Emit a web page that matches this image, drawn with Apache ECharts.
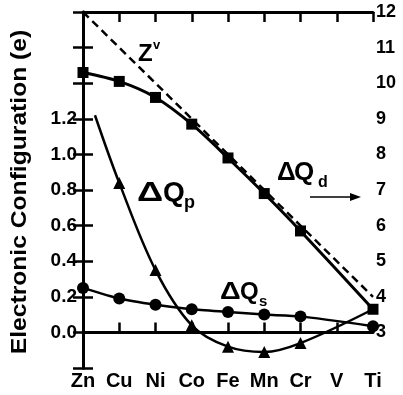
<!DOCTYPE html>
<html>
<head>
<meta charset="utf-8">
<script src="https://cdn.jsdelivr.net/npm/echarts@6/dist/echarts.min.js"></script>
<style>
  html, body { margin: 0; padding: 0; background: #fff; }
  #chart { width: 403px; height: 395px; }
</style>
</head>
<body>
<div id="chart"></div>
<script>
// elements along the x axis
const elements = ['Zn', 'Cu', 'Ni', 'Co', 'Fe', 'Mn', 'Cr', 'V', 'Ti']
// right axis values (e)
const zv = [12, 11, 10, 9, 8, 7, 6, 5, 4]
const dQd = [10.3, 10.05, 9.6, 8.85, 7.9, 6.9, 5.85, null, 3.65]
// left axis values (e)
const dQp = [null, 0.84, 0.35, 0.04, -0.08, -0.11, -0.06, null, 0.13]
const dQpStart = [0.33, 1.22] // curve starts between Zn and Cu
const dQs = [0.25, 0.19, 0.155, 0.13, 0.115, 0.1, 0.09, null, 0.035]
const leftTicks = [0, 0.2, 0.4, 0.6, 0.8, 1.0, 1.2]
const rightTicks = [3, 4, 5, 6, 7, 8, 9, 10, 11, 12]

const FONT = '"Liberation Sans", Arial, Helvetica, sans-serif'

function pairs(arr) {
  let out = []
  arr.forEach((v, i) => {
    if (v !== null) out.push([i, v])
  })
  return out
}

let pData = [{ value: dQpStart, symbol: 'none' }].concat(
  pairs(dQp).map((p) => (p[0] === 8 ? { value: p, symbol: 'none' } : p))
)

const lineCommon = {
  type: 'line',
  clip: false,
  color: '#000',
  lineStyle: { color: '#000', width: 2.5 },
  itemStyle: { color: '#000' },
  emphasis: { disabled: true },
  animation: false
}

const axisLine = { lineStyle: { color: '#000', width: 3 } }
const axisTick = { inside: true, length: 10, lineStyle: { color: '#000', width: 2.5 } }

// text helper, y is the visual middle of the glyphs
function txt(s, x, y, size, scaleX) {
  return {
    type: 'text',
    x: x,
    y: y,
    scaleX: scaleX || 1,
    style: {
      text: s,
      fill: '#000',
      fontFamily: FONT,
      fontWeight: 'bold',
      fontSize: size,
      align: 'left',
      verticalAlign: 'middle'
    }
  }
}

let chart = echarts.init(document.getElementById('chart'))
chart.setOption({
  animation: false,
  grid: { left: 83, right: 30, top: 12, bottom: 27 },
  xAxis: [
    {
      type: 'value',
      min: 0,
      max: 8,
      interval: 1,
      position: 'bottom',
      axisLine: axisLine,
      axisTick: axisTick,
      axisLabel: {
        margin: 3,
        color: '#000',
        fontFamily: FONT,
        fontWeight: 'bold',
        fontSize: 20,
        formatter: (v) => elements[Math.round(v)] || ''
      },
      splitLine: { show: false }
    },
    {
      type: 'value',
      min: 0,
      max: 8,
      interval: 1,
      position: 'top',
      axisLine: axisLine,
      axisTick: axisTick,
      axisLabel: { show: false },
      splitLine: { show: false }
    }
  ],
  yAxis: [
    {
      type: 'value',
      min: -0.2,
      max: 1.8,
      interval: 0.2,
      position: 'left',
      axisLine: axisLine,
      axisTick: axisTick,
      axisLabel: {
        margin: 6,
        color: '#000',
        fontFamily: FONT,
        fontWeight: 'bold',
        fontSize: 19,
        formatter: (v) => (leftTicks.some((t) => Math.abs(t - v) < 1e-6) ? v.toFixed(1) : '')
      },
      splitLine: { show: false }
    },
    {
      type: 'value',
      min: 2,
      max: 12,
      interval: 1,
      position: 'right',
      axisLine: axisLine,
      axisTick: axisTick,
      axisLabel: {
        margin: 3,
        color: '#000',
        fontFamily: FONT,
        fontWeight: 'bold',
        fontSize: 18,
        formatter: (v) => (rightTicks.indexOf(Math.round(v)) >= 0 ? String(Math.round(v)) : '')
      },
      splitLine: { show: false }
    }
  ],
  series: [
    Object.assign({}, lineCommon, {
      name: 'Zv',
      yAxisIndex: 1,
      symbol: 'none',
      lineStyle: { color: '#000', width: 2.5, type: [8, 5] },
      data: pairs(zv)
    }),
    Object.assign({}, lineCommon, {
      name: 'dQd',
      yAxisIndex: 1,
      smooth: 0.3,
      symbol: 'rect',
      symbolSize: 11,
      lineStyle: { color: '#000', width: 3 },
      data: pairs(dQd)
    }),
    Object.assign({}, lineCommon, {
      name: 'dQp',
      yAxisIndex: 0,
      smooth: 0.35,
      symbol: 'triangle',
      symbolSize: 12,
      data: pData
    }),
    Object.assign({}, lineCommon, {
      name: 'dQs',
      yAxisIndex: 0,
      smooth: 0.2,
      symbol: 'circle',
      symbolSize: 12,
      data: pairs(dQs)
    })
  ],
  graphic: [
    // y axis title
    {
      type: 'text',
      x: 20,
      y: 192,
      rotation: Math.PI / 2,
      scaleX: 1.12,
      style: {
        text: 'Electronic Configuration (e)',
        fill: '#000',
        fontFamily: FONT,
        fontWeight: 'bold',
        fontSize: 22,
        align: 'center',
        verticalAlign: 'middle'
      }
    },
    txt('Z', 138, 54, 24),
    txt('v', 153, 45, 13),

    txt('Δ', 137, 193, 28, 1.3),
    txt('Q', 163, 193, 28),
    txt('p', 184, 203, 18),

    txt('Δ', 277, 173, 26),
    txt('Q', 294, 173, 26),
    txt('d', 318, 183, 16),
    // arrow pointing to the right axis
    {
      type: 'line',
      shape: { x1: 310, y1: 197, x2: 352, y2: 197 },
      style: { stroke: '#000', lineWidth: 1.5 }
    },
    {
      type: 'polygon',
      shape: { points: [[350, 193], [361, 197], [350, 201]] },
      style: { fill: '#000' }
    },

    txt('Δ', 220, 292, 24, 1.2),
    txt('Q', 240, 292, 24),
    txt('s', 259, 302, 15)
  ]
})
</script>
</body>
</html>
